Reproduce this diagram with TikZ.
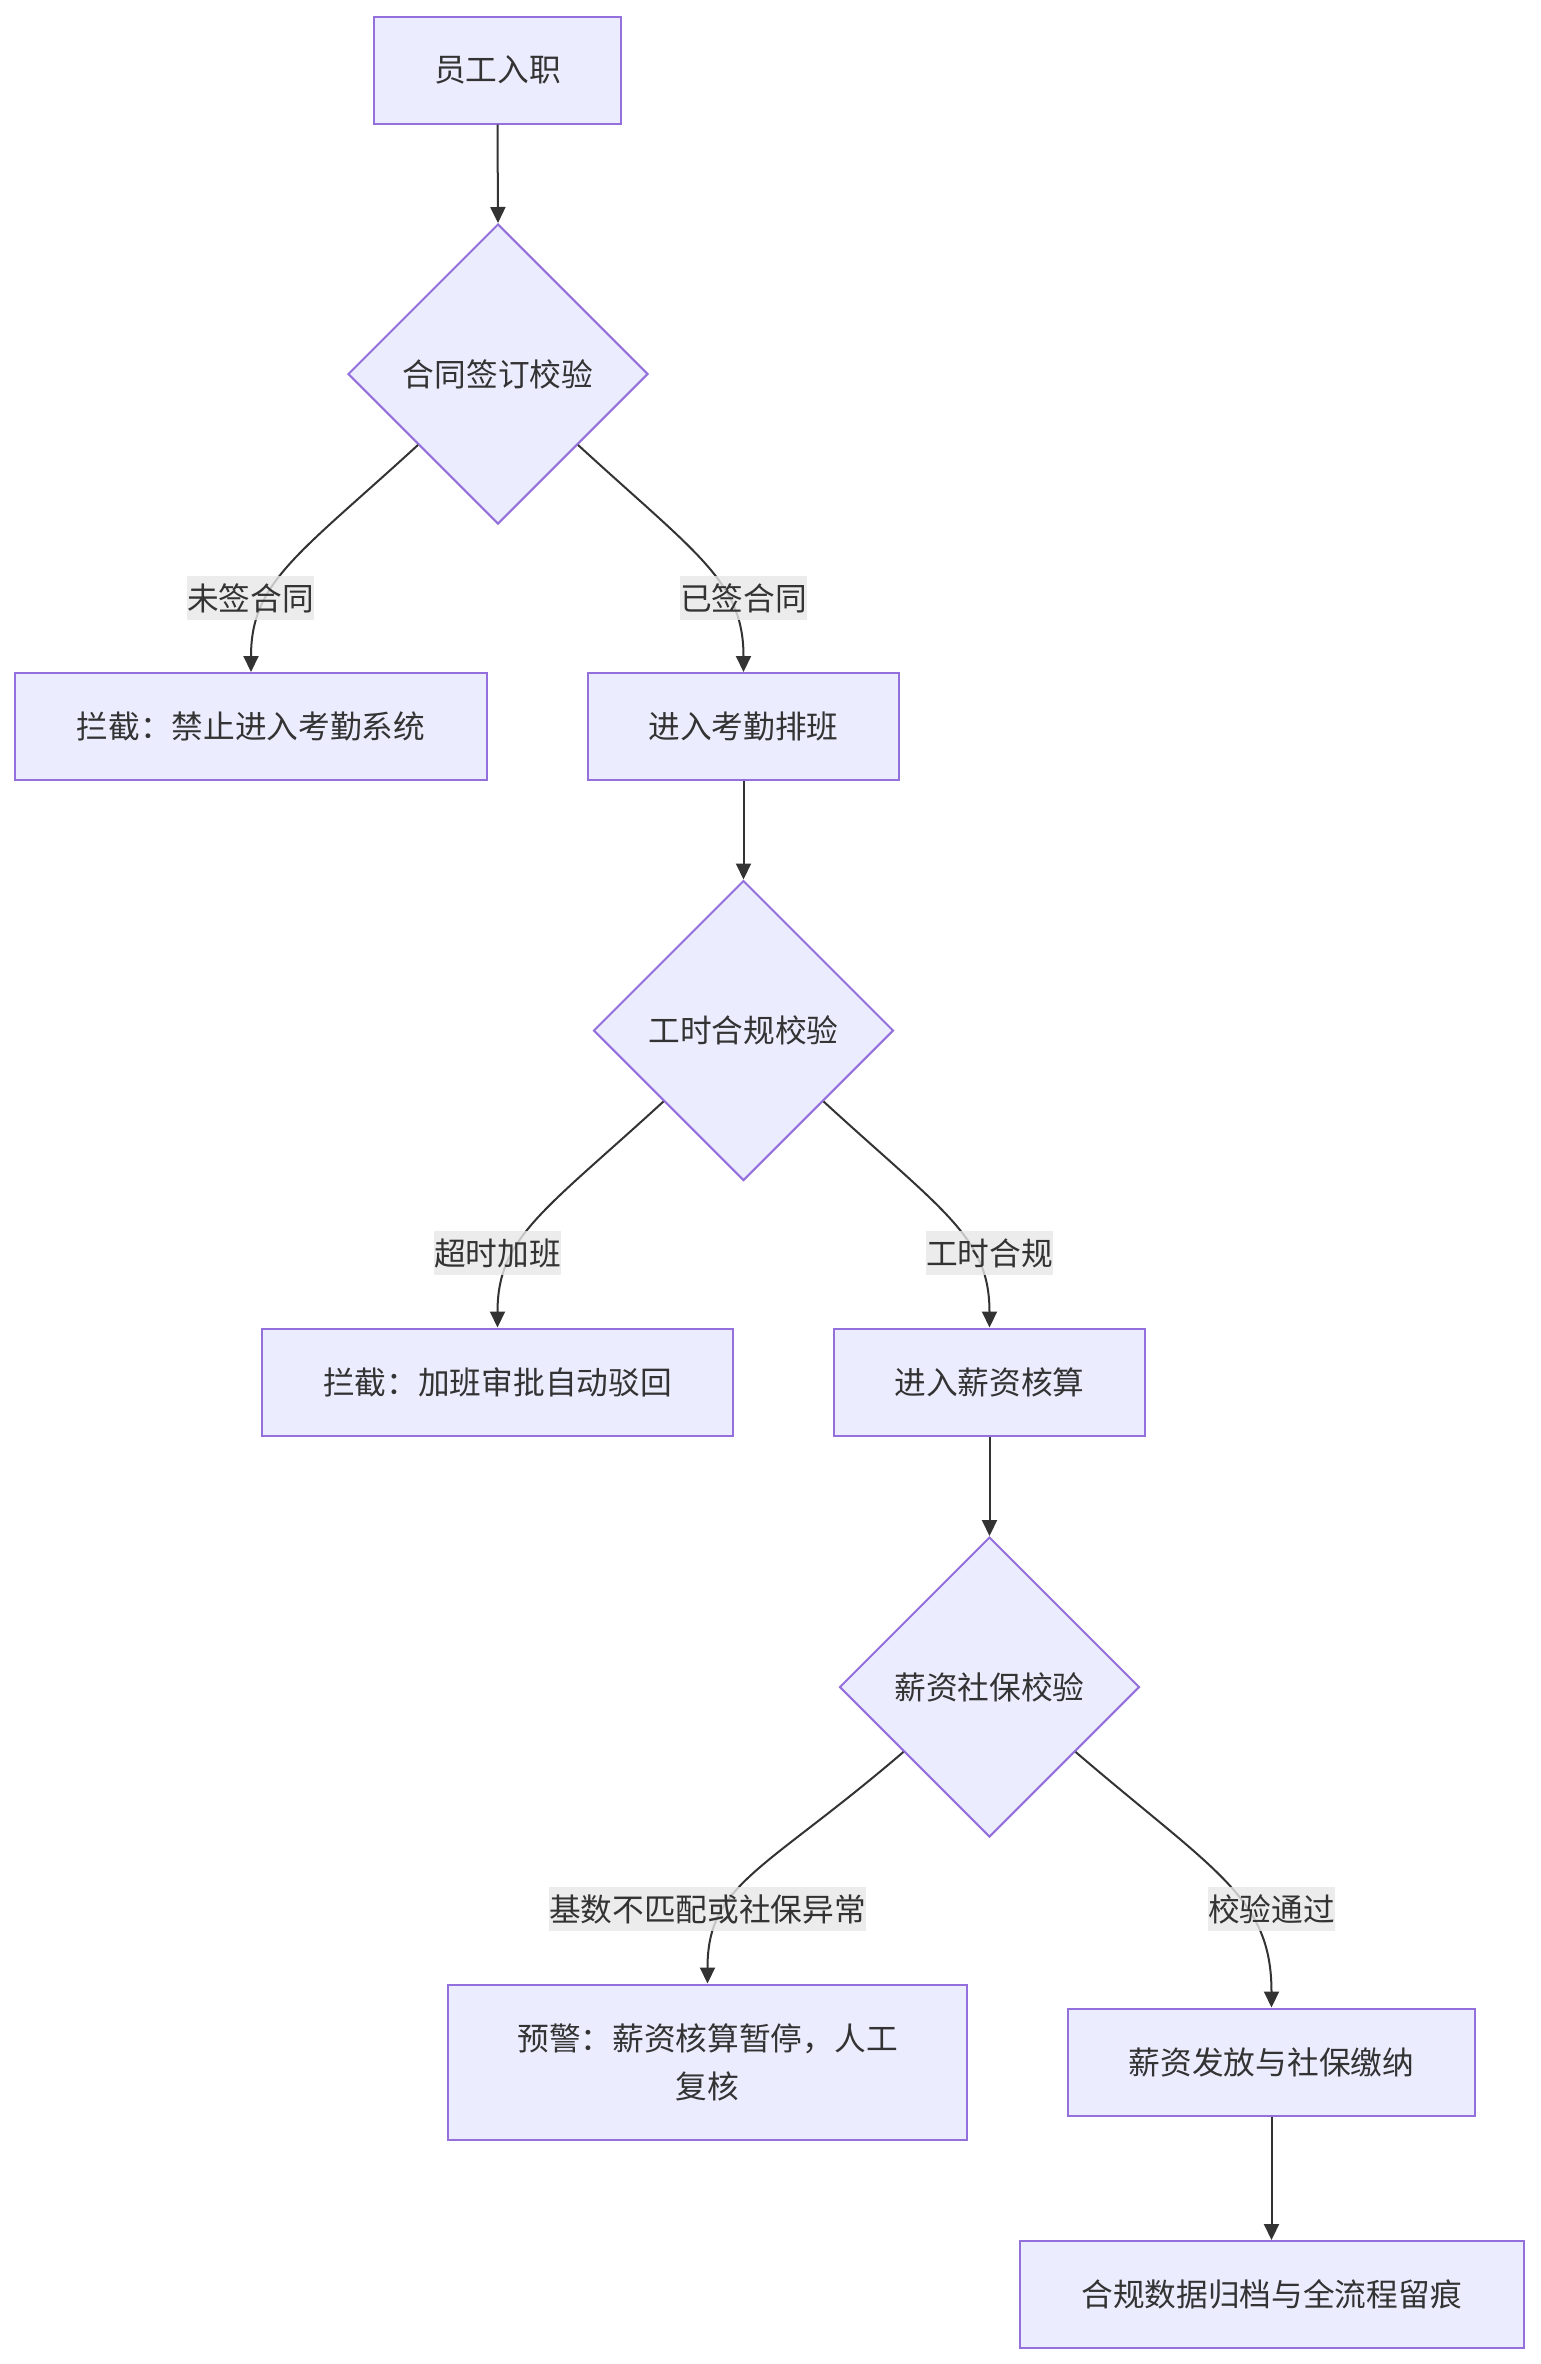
\documentclass[tikz,border=0pt]{standalone}
\usepackage{fontspec}
\newfontfamily\cjkfont{Noto Sans CJK SC}
\usetikzlibrary{shapes.geometric,arrows.meta,calc}
\definecolor{nodefill}{HTML}{ECECFF}
\definecolor{nodeborder}{HTML}{9370DB}
\definecolor{edgecol}{HTML}{333333}
\definecolor{textcol}{HTML}{333333}
\definecolor{labelbg}{HTML}{E8E8E8}
\begin{document}
\begin{tikzpicture}[x=1pt,y=-1pt,
  every node/.style={font=\cjkfont\fontsize{31.7}{48}\selectfont, text=textcol},
  procbox/.style={rectangle, draw=nodeborder, fill=nodefill, line width=2pt, inner sep=0pt, minimum height=107pt, align=center},
  decision/.style={diamond, draw=nodeborder, fill=nodefill, line width=2pt, inner sep=0pt, minimum width=300pt, minimum height=300pt, aspect=1},
  flow/.style={draw=edgecol, line width=2pt, -{Triangle[length=16pt,width=15pt]}},
  elabel/.style={fill=labelbg, fill opacity=0.8, text opacity=1, inner xsep=0pt, inner ysep=0pt, minimum height=44pt}
]
\useasboundingbox (0,0) rectangle (1540,2364);
\fill[white] (0,0) rectangle (1540,2364);

% nodes
\node[procbox, minimum width=247pt] (b1) at (497.5,70) {员工入职};
\node[decision] (d1) at (498,374) {合同签订校验};
\node[procbox, minimum width=472pt] (b2) at (251,726.5) {拦截：禁止进入考勤系统};
\node[procbox, minimum width=311pt] (b3) at (743.5,726.5) {进入考勤排班};
\node[decision] (d2) at (743.5,1030.5) {工时合规校验};
\node[procbox, minimum width=471pt] (b4) at (497.5,1382) {拦截：加班审批自动驳回};
\node[procbox, minimum width=311pt] (b5) at (989.5,1382) {进入薪资核算};
\node[decision] (d3) at (989.5,1687) {薪资社保校验};
\node[procbox, minimum width=519pt, minimum height=155pt] (b6) at (707.5,2062) {预警：薪资核算暂停，人工\\复核};
\node[procbox, minimum width=407pt] (b7) at (1271.5,2062) {薪资发放与社保缴纳};
\node[procbox, minimum width=504pt] (b8) at (1271.5,2294.5) {合规数据归档与全流程留痕};

% branch start points on diamond edges
\coordinate (d1l) at ($(d1.south)!0.53!(d1.west)$);
\coordinate (d1r) at ($(d1.south)!0.53!(d1.east)$);
\coordinate (d2l) at ($(d2.south)!0.53!(d2.west)$);
\coordinate (d2r) at ($(d2.south)!0.53!(d2.east)$);
\coordinate (d3l) at ($(d3.south)!0.57!(d3.west)$);
\coordinate (d3r) at ($(d3.south)!0.57!(d3.east)$);

% straight connectors
\draw[flow] (b1.south) -- (d1.north);
\draw[flow] (b3.south) -- (d2.north);
\draw[flow] (b5.south) -- (d3.north);
\draw[flow] (b7.south) -- (b8.north);

% curved connectors
\draw[flow] (d1l) .. controls ($(d1l)+(-120,110)$) and ($(b2.north)+(0,-90)$) .. (b2.north);
\draw[flow] (d1r) .. controls ($(d1r)+(120,110)$) and ($(b3.north)+(0,-90)$) .. (b3.north);
\draw[flow] (d2l) .. controls ($(d2l)+(-120,110)$) and ($(b4.north)+(0,-90)$) .. (b4.north);
\draw[flow] (d2r) .. controls ($(d2r)+(120,110)$) and ($(b5.north)+(0,-90)$) .. (b5.north);
\draw[flow] (d3l) .. controls ($(d3l)+(-140,120)$) and ($(b6.north)+(0,-100)$) .. (b6.north);
\draw[flow] (d3r) .. controls ($(d3r)+(140,120)$) and ($(b7.north)+(0,-110)$) .. (b7.north);

% edge labels
\node[elabel] (l1) at (250.5,598) {未签合同};
\node[elabel] (l2) at (743.5,598) {已签合同};
\node[elabel] (l3) at (497.5,1253) {超时加班};
\node[elabel] (l4) at (989.5,1253) {工时合规};
\node[elabel] (l5) at (707.5,1909) {基数不匹配或社保异常};
\node[elabel] (l6) at (1271.5,1909) {校验通过};
\end{tikzpicture}
\end{document}
